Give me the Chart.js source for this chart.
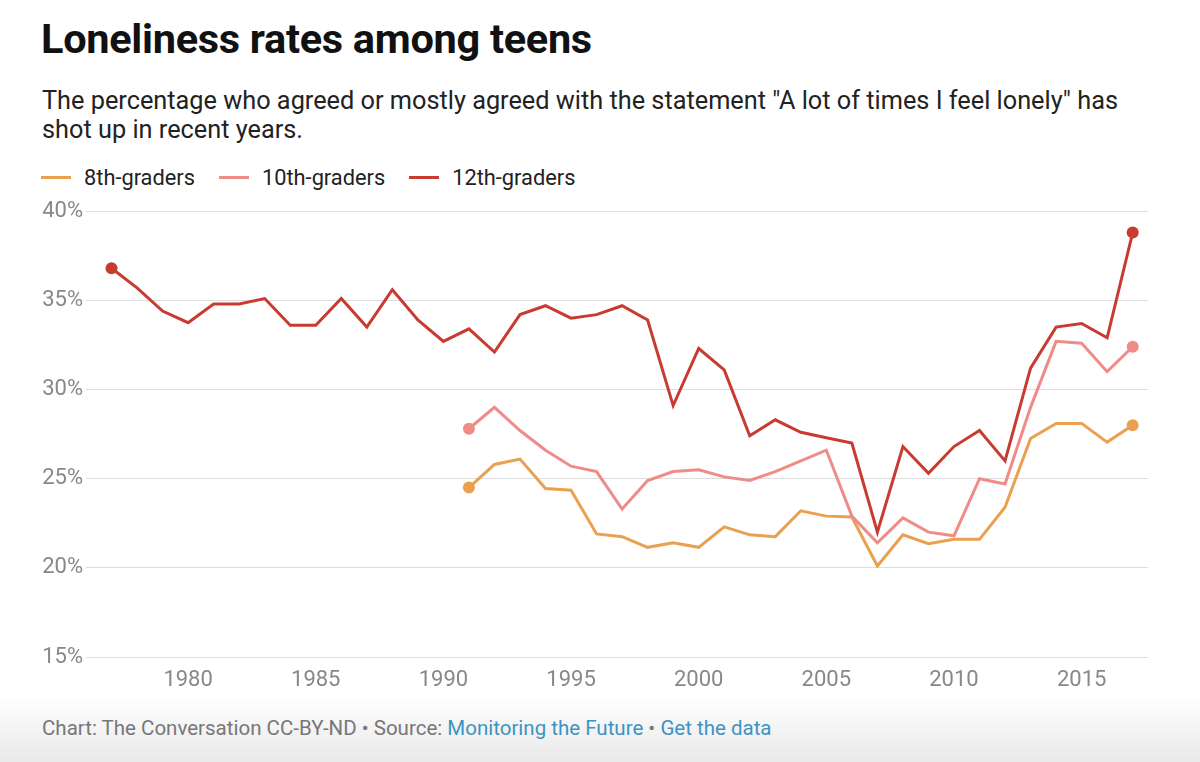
<!DOCTYPE html>
<html>
<head>
<meta charset="utf-8">
<script src="https://cdn.jsdelivr.net/npm/chart.js@4"></script>
<style>
  html, body { margin: 0; padding: 0; background: #fff; }
  body { width: 1200px; height: 762px; position: relative; overflow: hidden; font-family: Roboto, "Noto Sans", sans-serif; }
  h1 { position: absolute; left: 41px; top: 14px; margin: 0; font-size: 41.5px; font-weight: 700; color: #111; letter-spacing: -0.3px; }
  .sub { position: absolute; left: 42px; top: 86px; width: 1118px; margin: 0; font-size: 25.3px; line-height: 29px; color: #222; }
  #legend { position: absolute; left: 41px; top: 165px; font-size: 21.8px; color: #222; display: flex; }
  #legend span.item { display: flex; align-items: center; margin-right: 24px; }
  #legend span.sw { display: inline-block; width: 30px; height: 3px; margin-right: 13px; }
  #wrap { position: absolute; left: 38px; top: 195px; width: 1120px; height: 502px; }
  .foot { position: absolute; left: 0; top: 696px; width: 1200px; height: 66px; background: linear-gradient(#fff, #e9e9e9); }
  .foot p { position: absolute; left: 42px; top: 20px; margin: 0; font-size: 20.5px; color: #777; }
  .foot a { color: #3d93c2; text-decoration: none; }
</style>
</head>
<body>
<h1>Loneliness rates among teens</h1>
<p class="sub">The percentage who agreed or mostly agreed with the statement "A lot of times I feel lonely" has shot up in recent years.</p>
<div id="legend"></div>
<div id="wrap"><canvas id="chart"></canvas></div>
<div class="foot"><p>Chart: The Conversation CC-BY-ND • Source: <a>Monitoring the Future</a> • <a>Get the data</a></p></div>
<script>
// years 1977..2017
const years = [1977, 1978, 1979, 1980, 1981, 1982, 1983, 1984, 1985, 1986, 1987, 1988, 1989, 1990,
  1991, 1992, 1993, 1994, 1995, 1996, 1997, 1998, 1999, 2000, 2001, 2002, 2003, 2004, 2005, 2006,
  2007, 2008, 2009, 2010, 2011, 2012, 2013, 2014, 2015, 2016, 2017];

// 8th and 10th graders only surveyed from 1991
const grade8 = [null, null, null, null, null, null, null, null, null, null, null, null, null, null,
  24.5, 25.8, 26.1, 24.45, 24.35, 21.9, 21.75, 21.15, 21.4, 21.15, 22.3, 21.85, 21.75, 23.2, 22.9, 22.85,
  20.1, 21.85, 21.35, 21.6, 21.6, 23.4, 27.25, 28.1, 28.1, 27.05, 28.0];
const grade10 = [null, null, null, null, null, null, null, null, null, null, null, null, null, null,
  27.8, 29.0, 27.7, 26.6, 25.7, 25.4, 23.3, 24.9, 25.4, 25.5, 25.1, 24.9, 25.4, 26.0, 26.6, 22.9,
  21.4, 22.8, 22.0, 21.8, 25.0, 24.7, 29.0, 32.7, 32.6, 31.0, 32.4];
const grade12 = [36.8, 35.7, 34.4, 33.75, 34.8, 34.8, 35.1, 33.6, 33.6, 35.1, 33.5, 35.6, 33.9, 32.7,
  33.4, 32.1, 34.2, 34.7, 34.0, 34.2, 34.7, 33.9, 29.1, 32.3, 31.1, 27.4, 28.3, 27.6, 27.3, 27.0,
  22.0, 26.8, 25.3, 26.8, 27.7, 26.0, 31.2, 33.5, 33.7, 32.9, 38.8];

const seriesNames = ['8th-graders', '10th-graders', '12th-graders'];
const seriesColors = ['#e9a04f', '#ef8c88', '#c83b30'];
const yTicks = [15, 20, 25, 30, 35, 40];
const xTicks = [1980, 1985, 1990, 1995, 2000, 2005, 2010, 2015];

const allSeries = [grade8, grade10, grade12];

// legend in html
const legend = document.getElementById('legend');
seriesNames.forEach((name, i) => {
  const item = document.createElement('span');
  item.className = 'item';
  item.innerHTML = '<span class="sw" style="background:' + seriesColors[i] + '"></span>' + name;
  legend.appendChild(item);
});

function endpointRadius(values) {
  const first = values.findIndex(v => v !== null);
  const last = values.length - 1;
  return ctx => (ctx.dataIndex === first || ctx.dataIndex === last) ? 6 : 0;
}

const datasets = allSeries.map((values, i) => ({
  label: seriesNames[i],
  data: years.map((y, j) => ({ x: y, y: values[j] })),
  borderColor: seriesColors[i],
  backgroundColor: seriesColors[i],
  borderWidth: 3,
  pointRadius: endpointRadius(values),
  pointHoverRadius: 0,
  pointBorderWidth: 0,
  tension: 0,
  spanGaps: false
})).reverse();

const ctx = document.getElementById('chart').getContext('2d');
new Chart(ctx, {
  type: 'line',
  data: { datasets: datasets },
  options: {
    responsive: true,
    maintainAspectRatio: false,
    animation: false,
    layout: { padding: { top: 14, right: 10, left: 0, bottom: 0 } },
    plugins: { legend: { display: false }, tooltip: { enabled: false } },
    scales: {
      x: {
        type: 'linear',
        min: 1976,
        max: 2017.6,
        grid: { display: false },
        border: { display: false },
        afterBuildTicks: axis => { axis.ticks = xTicks.map(v => ({ value: v })); },
        afterFit: axis => { axis.height = 40; },
        ticks: {
          color: '#888',
          font: { family: 'Roboto', size: 22 },
          padding: 2,
          maxRotation: 0,
          callback: v => String(v)
        }
      },
      y: {
        min: 15,
        max: 40,
        grid: { color: '#dddddd', lineWidth: 1, drawTicks: false },
        border: { display: false },
        afterBuildTicks: axis => { axis.ticks = yTicks.map(v => ({ value: v })); },
        afterFit: axis => { axis.width = 48; },
        ticks: {
          color: '#888',
          font: { family: 'Roboto', size: 22 },
          padding: 3,
          callback: v => v + '%'
        }
      }
    }
  }
});
</script>
</body>
</html>
